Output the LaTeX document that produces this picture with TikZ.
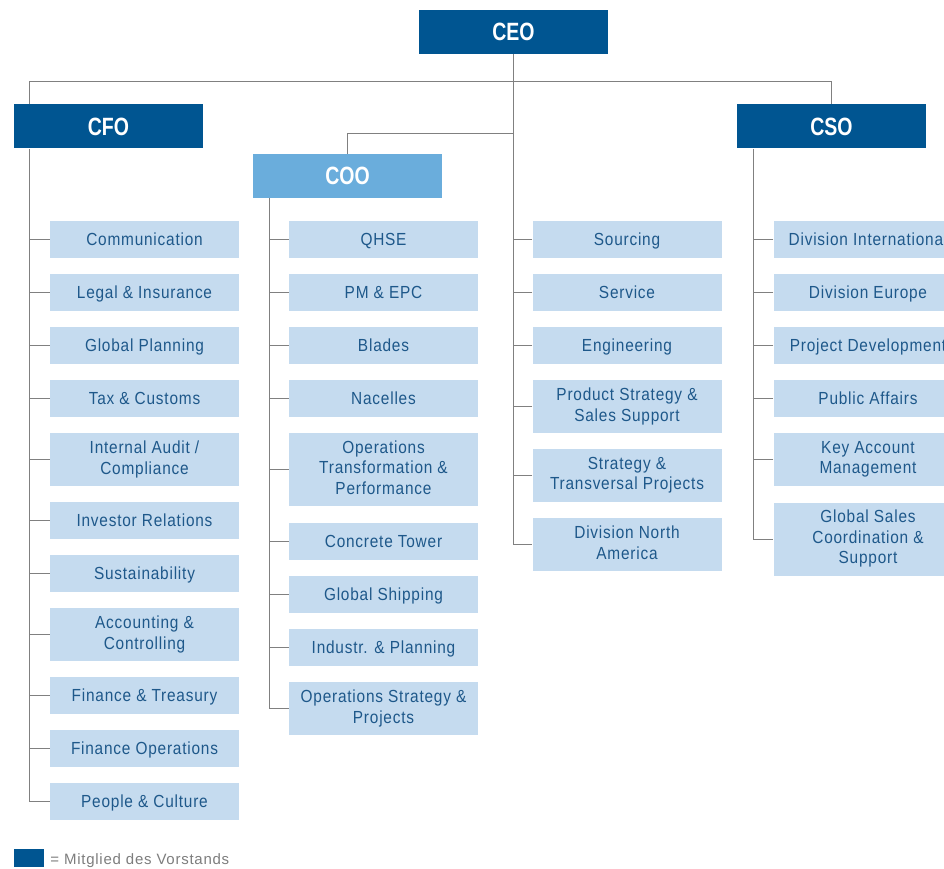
\documentclass[tikz,border=0pt]{standalone}
\usepackage{fontspec}
\setmainfont{Liberation Sans}
\newfontfamily\unitfont[FakeStretch=0.88,LetterSpace=4.5]{Liberation Sans}
\newfontfamily\headfont[FakeStretch=0.78]{Liberation Sans}
\newfontfamily\legendfont[LetterSpace=5]{Liberation Sans}
\definecolor{board}{RGB}{0,85,145}
\definecolor{coofill}{RGB}{106,173,220}
\definecolor{unitfill}{RGB}{197,219,239}
\definecolor{unittext}{RGB}{30,88,138}
\definecolor{linkgray}{RGB}{128,128,128}
\definecolor{legendgray}{RGB}{125,125,125}
% invisible strut: 16pt above the baseline, 4pt below
\newcommand\ustrut{\rule[-4pt]{0pt}{20pt}}
\tikzset{
  headbox/.style={rectangle, fill=board, minimum width=189pt, minimum height=44pt,
    inner sep=0pt, text=white, font=\headfont\bfseries\fontsize{25}{25}\selectfont},
  coobox/.style={headbox, fill=coofill},
  unitbox/.style={rectangle, fill=unitfill, minimum width=189pt, minimum height=37pt,
    inner sep=0pt, align=center, text=unittext,
    font=\unitfont\fontsize{17.5}{20.5}\selectfont,
    execute at begin node=\ustrut, execute at end node=\ustrut},
  twoline/.style={unitbox, minimum height=53pt},
  threeline/.style={unitbox, minimum height=73pt},
  link/.style={draw=linkgray, line width=0.9pt}
}
\begin{document}
\begin{tikzpicture}[x=1pt,y=-1pt]
\path[use as bounding box] (0,0) rectangle (944,869);
\clip (0,0) rectangle (944,869);

% board members
\node[headbox] (ceo) at (513.5,32) {CEO};
\node[headbox] (cfo) at (108.5,126.5) {CFO};
\node[headbox] (cso) at (831.5,126.5) {CSO};
\node[coobox]  (coo) at (347.5,176) {COO};

% spine positions
\coordinate (bar) at (0,81);
\coordinate (coobar) at (0,133);
\coordinate (cfoX) at (29,0);
\coordinate (cooX) at (269,0);
\coordinate (csoX) at (753,0);

% CFO units
\node[unitbox]  (comm)  at (144.5,239.5) {Communication};
\node[unitbox]  (legal) at (144.5,292.5) {Legal \& Insurance};
\node[unitbox]  (gplan) at (144.5,345.5) {Global Planning};
\node[unitbox]  (tax)   at (144.5,398.5) {Tax \& Customs};
\node[twoline]  (audit) at (144.5,459.5) {Internal Audit /\\Compliance};
\node[unitbox]  (ir)    at (144.5,520.5) {Investor Relations};
\node[unitbox]  (sust)  at (144.5,573.5) {Sustainability};
\node[twoline]  (acc)   at (144.5,634.5) {Accounting \&\\Controlling};
\node[unitbox]  (fint)  at (144.5,695.5) {Finance \& Treasury};
\node[unitbox]  (finop) at (144.5,748.5) {Finance Operations};
\node[unitbox]  (pc)    at (144.5,801.5) {People \& Culture};

% COO units
\node[unitbox]   (qhse)  at (383.5,239.5) {QHSE};
\node[unitbox]   (pm)    at (383.5,292.5) {PM \& EPC};
\node[unitbox]   (blade) at (383.5,345.5) {Blades};
\node[unitbox]   (nac)   at (383.5,398.5) {Nacelles};
\node[threeline] (otp)   at (383.5,469.5) {Operations\\Transformation \&\\Performance};
\node[unitbox]   (ct)    at (383.5,541.5) {Concrete Tower};
\node[unitbox]   (gship) at (383.5,594.5) {Global Shipping};
\node[unitbox]   (ind)   at (383.5,647.5) {Industr. \& Planning};
\node[twoline]   (osp)   at (383.5,708.5) {Operations Strategy \&\\Projects};

% CEO units
\node[unitbox] (src)  at (627,239.5) {Sourcing};
\node[unitbox] (serv) at (627,292.5) {Service};
\node[unitbox] (eng)  at (627,345.5) {Engineering};
\node[twoline] (pss)  at (627,406.5) {Product Strategy \&\\Sales Support};
\node[twoline] (stp)  at (627,475.5) {Strategy \&\\Transversal Projects};
\node[twoline] (dna)  at (627,544.5) {Division North\\America};

% CSO units
\node[unitbox]   (dint) at (868,239.5) {Division International};
\node[unitbox]   (deu)  at (868,292.5) {Division Europe};
\node[unitbox]   (pdev) at (868,345.5) {Project Development};
\node[unitbox]   (pa)   at (868,398.5) {Public Affairs};
\node[twoline]   (kam)  at (868,459.5) {Key Account\\Management};
\node[threeline] (gsc)  at (868,539)   {Global Sales\\Coordination \&\\Support};

% top-level connectors
\draw[link] (cfo.north -| cfoX) -- (cfoX |- bar) -- (cso.north |- bar) -- (cso.north);
\draw[link] (ceo.south) -- (ceo.south |- dna.west) -- (dna.west);
\draw[link] (ceo.south |- coobar) -| (coo.north);

% CFO spine and branches
\draw[link] (cfo.south -| cfoX) -- (cfoX |- pc.west) -- (pc.west);
\foreach \u in {comm,legal,gplan,tax,audit,ir,sust,acc,fint,finop}
  \draw[link] (\u.west) -- (\u.west -| cfoX);

% COO spine and branches
\draw[link] (coo.south -| cooX) -- (cooX |- osp.west) -- (osp.west);
\foreach \u in {qhse,pm,blade,nac,otp,ct,gship,ind}
  \draw[link] (\u.west) -- (\u.west -| cooX);

% CEO branches
\foreach \u in {src,serv,eng,pss,stp}
  \draw[link] (\u.west) -- (\u.west -| ceo.south);

% CSO spine and branches
\draw[link] (cso.south -| csoX) -- (csoX |- gsc.west) -- (gsc.west);
\foreach \u in {dint,deu,pdev,pa,kam}
  \draw[link] (\u.west) -- (\u.west -| csoX);

% legend
\node[rectangle, fill=board, minimum width=30pt, minimum height=18pt, inner sep=0pt] (legsq) at (29,858) {};
\node[anchor=base west, inner sep=0pt, text=legendgray, font=\legendfont\fontsize{15}{15}\selectfont] (legtxt)
  at ([xshift=6pt,yshift=3pt]legsq.south east) {= Mitglied des Vorstands};
\end{tikzpicture}
\end{document}
